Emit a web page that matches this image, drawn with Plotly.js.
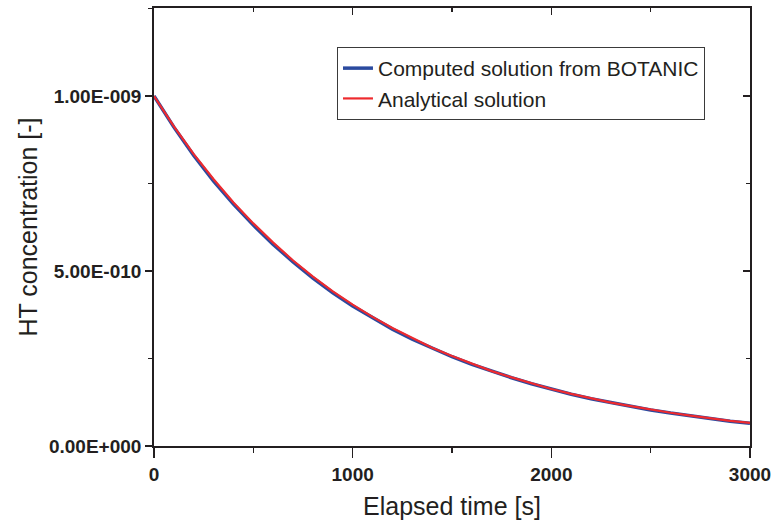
<!DOCTYPE html>
<html>
<head>
<meta charset="utf-8">
<script src="https://cdn.plot.ly/plotly-3.0.1.min.js"></script>
<style>html,body{margin:0;padding:0;background:#fff;}#chart{width:774px;height:524px;}</style>
</head>
<body>
<div id="chart"></div>
<script>
// Elapsed time [s]
const time = [0,100,200,300,400,500,600,700,800,900,1000,1100,1200,1300,1400,1500,1600,1700,1800,1900,2000,2100,2200,2300,2400,2500,2600,2700,2800,2900,3000];
// Computed solution from BOTANIC (HT concentration, x1e-9)
const computed = [1.000,0.911,0.830,0.757,0.691,0.631,0.576,0.526,0.480,0.438,0.400,0.366,0.334,0.305,0.279,0.255,0.233,0.213,0.195,0.178,0.162,0.148,0.135,0.124,0.113,0.103,0.094,0.086,0.078,0.071,0.065];
// Analytical solution (HT concentration, x1e-9)
const analytical = [1.000,0.913,0.834,0.762,0.696,0.636,0.581,0.530,0.484,0.442,0.404,0.369,0.337,0.308,0.281,0.257,0.235,0.214,0.196,0.179,0.163,0.149,0.136,0.124,0.114,0.104,0.095,0.087,0.079,0.072,0.066];
const yTickVals = [0, 5e-10, 1e-9];
const yTickText = ['0.00E+000', '5.00E-010', '1.00E-009'];
const xTickVals = [0, 1000, 2000, 3000];
const xTickText = ['0', '1000', '2000', '3000'];

const scale = 1e-9;
const ink = '#231f20';
const FONT = 'Liberation Sans, Arial, sans-serif';

const traces = [
  {x: time, y: computed.map(v => v * scale), mode: 'lines', name: 'Computed solution from BOTANIC',
   line: {color: '#2b4a9f', width: 3.5}, hoverinfo: 'skip'},
  {x: time, y: analytical.map(v => v * scale), mode: 'lines', name: 'Analytical solution',
   line: {color: '#ee2a2e', width: 2.2}, hoverinfo: 'skip'},
  // empty trace so the mirrored frame axes (top / right) get drawn
  {x: [], y: [], xaxis: 'x2', yaxis: 'y2', mode: 'lines', showlegend: false, hoverinfo: 'skip'}
];

const xr = [0, 3000], yr = [0, 1.2514e-9];
const layout = {
  width: 774, height: 524,
  margin: {l: 154, r: 24, t: 8, b: 78},
  paper_bgcolor: '#fff', plot_bgcolor: '#fff',
  font: {family: FONT, color: ink},
  showlegend: true,
  legend: {x: 0.307, y: 0.911, xanchor: 'left', yanchor: 'top', bgcolor: '#fff',
           bordercolor: '#3a3a3a', borderwidth: 1, font: {size: 21, family: FONT, color: ink},
           tracegroupgap: 0},
  xaxis: {range: xr, tickvals: xTickVals, ticktext: xTickText, ticks: 'outside', ticklen: 10, tickwidth: 1.5,
          tickcolor: ink, showline: true, linecolor: ink, linewidth: 1.8, showgrid: false, zeroline: false,
          ticklabeloverflow: 'allow',
          tickfont: {size: 19, family: FONT, weight: 'bold', color: ink},
          minor: {dtick: 500, ticks: 'outside', ticklen: 5, tickwidth: 1.2, tickcolor: ink, showgrid: false},
          title: {text: 'Elapsed time [s]', font: {size: 25, family: FONT, color: ink}, standoff: 14}},
  yaxis: {range: yr, tickvals: yTickVals, ticktext: yTickText, ticks: 'outside', ticklen: 7, tickwidth: 1.5,
          tickcolor: ink, showline: true, linecolor: ink, linewidth: 1.8, showgrid: false, zeroline: false,
          tickfont: {size: 19, family: FONT, weight: 'bold', color: ink},
          minor: {dtick: 2.5e-10, ticks: 'outside', ticklen: 4, tickwidth: 1.2, tickcolor: ink, showgrid: false},
          title: {text: 'HT concentration [-]', font: {size: 25, family: FONT, color: ink}, standoff: 4}},
  xaxis2: {range: xr, overlaying: 'x', side: 'top', anchor: 'y2', tickvals: xTickVals, ticks: 'inside', ticklen: 7,
           tickwidth: 1.5, tickcolor: ink, showticklabels: false, showline: true, linecolor: ink, linewidth: 1.8,
           showgrid: false, zeroline: false,
           minor: {dtick: 500, ticks: 'inside', ticklen: 4, tickwidth: 1.2, tickcolor: ink, showgrid: false}},
  yaxis2: {range: yr, overlaying: 'y', side: 'right', anchor: 'x2', tickvals: yTickVals, ticks: 'inside', ticklen: 7,
           tickwidth: 1.5, tickcolor: ink, showticklabels: false, showline: true, linecolor: ink, linewidth: 1.8,
           showgrid: false, zeroline: false,
           minor: {dtick: 2.5e-10, ticks: 'inside', ticklen: 4, tickwidth: 1.2, tickcolor: ink, showgrid: false}}
};

Plotly.newPlot('chart', traces, layout, {staticPlot: true, displayModeBar: false});
</script>
</body>
</html>
